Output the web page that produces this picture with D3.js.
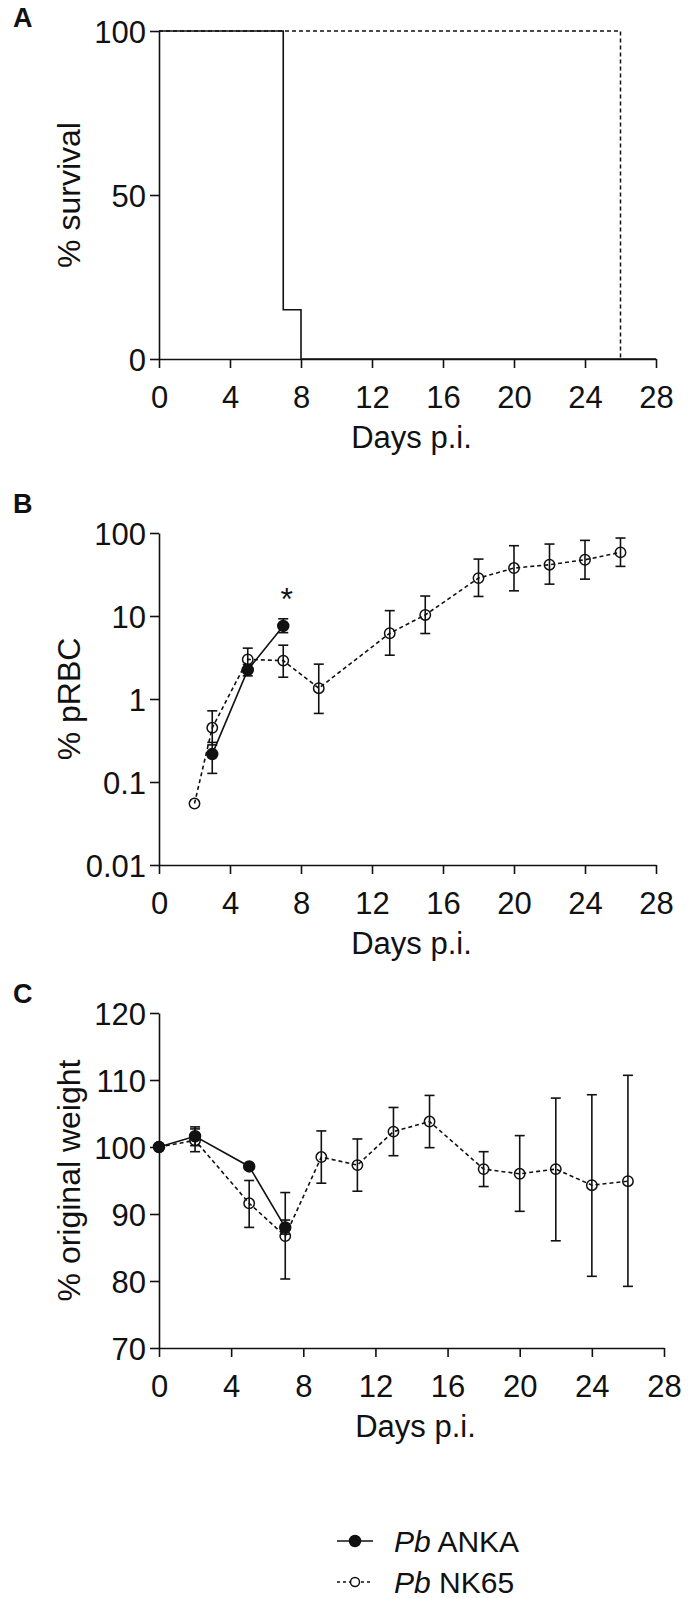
<!DOCTYPE html>
<html><head><meta charset="utf-8">
<script src="https://cdn.jsdelivr.net/npm/d3@7"></script>
<style>
html,body{margin:0;padding:0;background:#fff;}
svg text{font-family:"Liberation Sans",Arial,sans-serif;fill:#111;}
</style></head>
<body>
<svg id="chart" width="698" height="1598"></svg>
<script>
// ---------- DATA ----------
const xTicks = [0,4,8,12,16,20,24,28];

// Panel A: survival (step data)
const survDaysAnka = [0,7,8,28];
const survAnka = [100,15,0,0];
const survDaysNK = [0,26];
const survNK = [100,0];
const survTicks = [0,50,100];

// Panel B: % pRBC
const pDaysNK = [2,3,5,7,9,13,15,18,20,22,24,26];
const pNK    = [0.055,0.45,3.0,2.9,1.35,6.2,10.3,28.6,37.8,41.5,47.6,58.4];
const pNKlo  = [null,0.28,2.1,1.83,0.67,3.37,6.15,17.2,20.1,24.2,27.8,39.6];
const pNKhi  = [null,0.72,4.1,4.45,2.63,11.6,17.4,48.5,70.3,73.6,81.5,87];
const pDaysAnka = [3,5,7];
const pAnka   = [0.217,2.24,7.6];
const pAnkaLo = [0.127,1.9,6.3];
const pAnkaHi = [0.30,2.6,9.25];
const pTicks = [0.01,0.1,1,10,100];
const pTickLabels = ["0.01","0.1","1","10","100"];

// Panel C: % original weight
const wDaysAnka = [0,2,5,7];
const wAnka   = [100,101.6,97.1,88.0];
const wAnkaLo = [100,100.2,96.8,87.0];
const wAnkaHi = [100,103.0,97.4,89.1];
const wDaysNK = [0,2,5,7,9,11,13,15,18,20,22,24,26];
const wNK   = [100,101.0,91.6,86.7,98.5,97.3,102.3,103.8,96.7,96.0,96.7,94.3,94.9];
const wNKlo = [100,99.3,88.0,80.3,94.6,93.4,98.7,99.9,94.1,90.4,86.0,80.7,79.2];
const wNKhi = [100,102.7,95.0,93.2,102.4,101.2,105.9,107.7,99.3,101.7,107.3,107.8,110.7];
const wTicks = [70,80,90,100,110,120];

const legendNames = [["Pb"," ANKA"],["Pb"," NK65"]];

// ---------- LAYOUT ----------
const svg = d3.select("#chart");
const X0 = 159;
const DASH = "4,3";
const FS = 31;

function drawAxes(g, x, y, ticks, labels, top, bottom, yTitle, letter, letterY){
  const [xa0, xa1] = x.range();
  const xa = g.append("g").attr("transform",`translate(0,${bottom})`)
    .call(d3.axisBottom(x).tickValues(xTicks).tickSize(9).tickSizeOuter(0));
  xa.select(".domain").attr("stroke","#111").attr("stroke-width",1.6);
  xa.selectAll(".tick line").attr("stroke","#111").attr("stroke-width",1.6);
  xa.selectAll(".tick text").attr("y",49).attr("dy",null)
    .style("font-size",FS+"px").attr("fill","#111");
  const ya = g.append("g").attr("transform",`translate(${X0},0)`)
    .call(d3.axisLeft(y).tickValues(ticks).tickSize(9).tickSizeOuter(0)
      .tickFormat((d,i)=>labels[i]));
  ya.select(".domain").attr("stroke","#111").attr("stroke-width",1.6);
  ya.selectAll(".tick line").attr("stroke","#111").attr("stroke-width",1.6);
  ya.selectAll(".tick text").attr("x",-13).attr("dy","0.36em")
    .style("font-size",FS+"px").attr("fill","#111");
  g.append("text").attr("x",(xa0+xa1)/2+4).attr("y",bottom+89)
    .attr("text-anchor","middle").style("font-size",FS+"px").text("Days p.i.");
  g.append("text").attr("transform",`translate(80,${(top+bottom)/2}) rotate(-90)`)
    .attr("text-anchor","middle").style("font-size",(FS+1)+"px").text(yTitle);
  g.append("text").attr("x",13).attr("y",letterY)
    .style("font-size","27px").style("font-weight","bold").text(letter);
}

function errBars(g, x, days, lo, hi, y){
  days.forEach((d,i)=>{
    if(lo[i]==null || hi[i]==null) return;
    const cx = x(d), y1 = y(lo[i]), y2 = y(hi[i]);
    if(Math.abs(y1-y2) < 1) return;
    g.append("line").attr("x1",cx).attr("x2",cx).attr("y1",y1).attr("y2",y2)
      .attr("stroke","#111").attr("stroke-width",1.6);
    [y1,y2].forEach(yy=>g.append("line").attr("x1",cx-5).attr("x2",cx+5)
      .attr("y1",yy).attr("y2",yy).attr("stroke","#111").attr("stroke-width",1.6));
  });
}

function series(g, x, days, vals, y, filled){
  const line = d3.line().x((d,i)=>x(days[i])).y(d=>y(d));
  g.append("path").datum(vals).attr("d",line).attr("fill","none")
    .attr("stroke","#111").attr("stroke-width",1.6)
    .attr("stroke-dasharray",filled?null:DASH);
  g.selectAll(null).data(vals).enter().append("circle")
    .attr("cx",(d,i)=>x(days[i])).attr("cy",d=>y(d))
    .attr("r",filled?5.5:5.2)
    .attr("fill",filled?"#111":"none")
    .attr("stroke","#111").attr("stroke-width",1.5);
}

// ---------- PANEL A ----------
{
  const x = d3.scaleLinear().domain([0,28]).range([X0,656]);
  const top=31, bottom=359;
  const y = d3.scaleLinear().domain([0,100]).range([bottom,top]);
  const g = svg.append("g");
  const stepNK = d3.line().curve(d3.curveStepAfter).x((d,i)=>x(survDaysNK[i])).y(d=>y(d));
  g.append("path").datum(survNK).attr("d",stepNK).attr("fill","none")
    .attr("stroke","#111").attr("stroke-width",1.5).attr("stroke-dasharray",DASH);
  const stepA = d3.line().curve(d3.curveStepAfter).x((d,i)=>x(survDaysAnka[i])).y(d=>y(d));
  g.append("path").datum(survAnka).attr("d",stepA).attr("fill","none")
    .attr("stroke","#111").attr("stroke-width",1.6);
  drawAxes(g, x, y, survTicks, survTicks.map(String), top, bottom, "% survival", "A", 27);
}

// ---------- PANEL B ----------
{
  const x = d3.scaleLinear().domain([0,28]).range([X0,656]);
  const top=533, bottom=865;
  const y = d3.scaleLog().domain([0.01,100]).range([bottom,top]);
  const g = svg.append("g");
  drawAxes(g, x, y, pTicks, pTickLabels, top, bottom, "% pRBC", "B", 513);
  errBars(g, x, pDaysNK, pNKlo, pNKhi, y);
  errBars(g, x, pDaysAnka, pAnkaLo, pAnkaHi, y);
  series(g, x, pDaysNK, pNK, y, false);
  series(g, x, pDaysAnka, pAnka, y, true);
  g.append("text").attr("x",x(7.2)).attr("y",y(19)+17).attr("text-anchor","middle")
    .style("font-size","32px").text("*");
}

// ---------- PANEL C ----------
{
  const x = d3.scaleLinear().domain([0,28]).range([X0,664]);
  const top=1013, bottom=1348;
  const y = d3.scaleLinear().domain([70,120]).range([bottom,top]);
  const g = svg.append("g");
  drawAxes(g, x, y, wTicks, wTicks.map(String), top, bottom, "% original weight", "C", 1003);
  errBars(g, x, wDaysNK, wNKlo, wNKhi, y);
  errBars(g, x, wDaysAnka, wAnkaLo, wAnkaHi, y);
  series(g, x, wDaysNK, wNK, y, false);
  series(g, x, wDaysAnka, wAnka, y, true);
}

// ---------- LEGEND ----------
{
  const g = svg.append("g");
  const rows = [1541,1582];
  legendNames.forEach((nm,i)=>{
    const yy = rows[i];
    g.append("line").attr("x1",337).attr("x2",373).attr("y1",yy).attr("y2",yy)
      .attr("stroke","#111").attr("stroke-width",1.6)
      .attr("stroke-dasharray",i===0?null:"3,3");
    g.append("circle").attr("cx",355).attr("cy",yy).attr("r",i===0?5.5:4.5)
      .attr("fill",i===0?"#111":"#fff").attr("stroke","#111").attr("stroke-width",1.5);
    const t = g.append("text").attr("x",394).attr("y",yy+11).style("font-size","30px");
    t.append("tspan").style("font-style","italic").text(nm[0]);
    t.append("tspan").text(nm[1]);
  });
}
</script>
</body></html>
